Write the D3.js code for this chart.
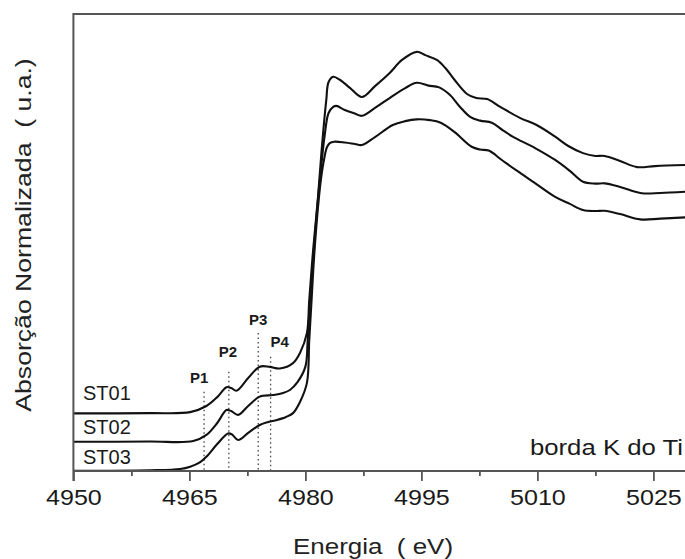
<!DOCTYPE html>
<html><head><meta charset="utf-8">
<script src="https://cdn.jsdelivr.net/npm/d3@7/dist/d3.min.js"></script>
<style>
html,body{margin:0;padding:0;background:#fff;}
svg{display:block;font-family:"Liberation Sans",Arial,sans-serif;}
</style></head>
<body>
<svg id="chart" width="685" height="559"></svg>
<script>
// ---- data ----
const seriesNames = ["ST01", "ST02", "ST03"];
const energy01 = [4950.0,4959.9,4965.1,4967.2,4968.6,4969.8,4970.4,4971.1,4972.6,4974.1,4975.4,4976.7,4978.4,4979.3,4980.2,4980.5,4981.0,4981.6,4982.1,4982.7,4983.0,4983.6,4984.5,4985.8,4987.3,4989.0,4990.9,4992.5,4994.4,4995.5,4997.0,4998.1,4999.3,5000.9,5002.1,5003.5,5005.2,5007.8,5009.9,5012.3,5014.0,5015.9,5017.5,5018.7,5020.7,5022.9,5025.2,5029.1];
const st01 = [0.227,0.228,0.232,0.256,0.291,0.330,0.327,0.316,0.366,0.411,0.410,0.404,0.425,0.465,0.544,0.673,0.870,1.067,1.264,1.461,1.532,1.553,1.540,1.508,1.473,1.516,1.568,1.619,1.651,1.638,1.619,1.587,1.540,1.485,1.469,1.465,1.434,1.390,1.363,1.317,1.280,1.252,1.241,1.241,1.221,1.197,1.201,1.205];
const energy02 = [4950.0,4959.9,4965.5,4967.2,4968.6,4969.8,4970.4,4971.3,4972.6,4974.1,4975.8,4977.1,4978.0,4979.0,4980.0,4980.3,4980.6,4981.0,4981.5,4982.0,4982.5,4983.0,4983.6,4984.0,4985.1,4986.4,4987.3,4989.0,4990.9,4992.9,4994.4,4995.9,4997.3,4998.7,5000.0,5001.3,5002.6,5004.1,5005.5,5006.8,5009.7,5012.3,5014.2,5015.9,5017.5,5018.7,5020.7,5023.5,5025.9,5029.1];
const st02 = [0.115,0.116,0.118,0.142,0.189,0.240,0.236,0.221,0.256,0.293,0.299,0.307,0.319,0.351,0.411,0.516,0.673,0.831,1.028,1.186,1.323,1.410,1.434,1.438,1.422,1.408,1.399,1.430,1.469,1.508,1.529,1.518,1.511,1.481,1.434,1.395,1.380,1.372,1.343,1.317,1.272,1.225,1.182,1.139,1.132,1.133,1.119,1.094,1.095,1.100];
const energy03 = [4950.0,4959.9,4963.8,4965.1,4966.4,4967.2,4968.6,4970.0,4970.5,4971.3,4972.6,4974.1,4975.2,4976.3,4977.5,4978.4,4979.3,4980.2,4980.5,4980.8,4981.1,4981.6,4982.0,4982.4,4982.8,4983.2,4983.7,4985.1,4986.4,4987.3,4989.0,4991.3,4992.9,4994.4,4996.1,4997.5,4999.3,5001.5,5002.6,5003.7,5005.4,5007.2,5009.7,5012.3,5014.2,5015.9,5017.5,5018.7,5020.7,5023.3,5025.9,5029.1];
const st03 = [0.001,0.003,0.008,0.017,0.035,0.056,0.106,0.148,0.144,0.122,0.150,0.181,0.193,0.201,0.213,0.228,0.272,0.347,0.516,0.673,0.831,1.028,1.146,1.225,1.276,1.292,1.297,1.294,1.288,1.284,1.315,1.363,1.378,1.385,1.382,1.372,1.335,1.277,1.266,1.262,1.225,1.186,1.134,1.080,1.052,1.028,1.024,1.025,1.012,0.991,0.994,0.999];
const peakNames = ["P1", "P2", "P3", "P4"];
const peakEnergy = [4966.9, 4970.1, 4973.9, 4975.5];
const peakTop = [0.312, 0.391, 0.544, 0.450];
const xTicks = [4950, 4965, 4980, 4995, 5010, 5025];
const xMinorTicks = [4957.5, 4972.5, 4987.5, 5002.5, 5017.5];
const xTitle = "Energia  ( eV)";
const yTitle = "Absorção Normalizada  ( u.a.)";
const edgeLabel = "borda K do Ti";

// ---- layout ----
const L = 73.4, T = 14, B = 471;
const x = d3.scaleLinear().domain([4950, 5030]).range([L, L + 80 * 7.733]);
const y = d3.scaleLinear().domain([0, 1.8]).range([B, T]);
const svg = d3.select("#chart");
const axisColor = "#555";

const series = [
  energy01.map((e, i) => [e, st01[i]]),
  energy02.map((e, i) => [e, st02[i]]),
  energy03.map((e, i) => [e, st03[i]])
];

svg.append("defs").append("clipPath").attr("id", "clip")
  .append("rect").attr("x", L).attr("y", T).attr("width", 685 - L).attr("height", B - T);

// dotted peak lines
svg.append("g").selectAll("line").data(peakEnergy).join("line")
  .attr("x1", d => x(d)).attr("x2", d => x(d))
  .attr("y1", (d, i) => y(peakTop[i])).attr("y2", y(0))
  .attr("stroke", "#444").attr("stroke-width", 1.3)
  .attr("stroke-dasharray", "1.5,3");

// curves
const line = d3.line().x(d => x(d[0])).y(d => y(d[1])).curve(d3.curveCatmullRom.alpha(0.5));
svg.append("g").attr("clip-path", "url(#clip)").selectAll("path").data(series).join("path")
  .attr("d", line).attr("fill", "none").attr("stroke", "#111")
  .attr("stroke-width", 2.1).attr("stroke-linejoin", "round");

// axes
const xAxis = d3.axisBottom(x).tickValues(xTicks).tickSize(10).tickFormat(d3.format("d"));
const gx = svg.append("g").attr("transform", `translate(0,${B})`).call(xAxis);
gx.select(".domain").remove();
gx.selectAll(".tick line").attr("stroke", axisColor).attr("stroke-width", 1.8);
gx.selectAll(".tick text").remove();
gx.selectAll(".tick").append("g").attr("transform", "translate(0,34) scale(1.14,1)")
  .append("text").attr("text-anchor", "middle").attr("fill", "#1a1a1a")
  .style("font-size", "22px").text(d => d);
const gxm = svg.append("g").attr("transform", `translate(0,${B})`)
  .call(d3.axisBottom(x).tickValues(xMinorTicks).tickSize(5).tickFormat(""));
gxm.select(".domain").remove();
gxm.selectAll(".tick line").attr("stroke", axisColor).attr("stroke-width", 1.8);

// frame lines
svg.append("line").attr("x1", L).attr("x2", 685).attr("y1", B).attr("y2", B)
  .attr("stroke", axisColor).attr("stroke-width", 2);
svg.append("line").attr("x1", L).attr("x2", 685).attr("y1", T).attr("y2", T)
  .attr("stroke", axisColor).attr("stroke-width", 2);
svg.append("line").attr("x1", L).attr("x2", L).attr("y1", T - 1).attr("y2", B + 10)
  .attr("stroke", axisColor).attr("stroke-width", 2);

// series labels
const labelY = [400, 434, 464];
svg.append("g").selectAll("text").data(seriesNames).join("text")
  .attr("x", 83).attr("y", (d, i) => labelY[i])
  .style("font-size", "20px").attr("fill", "#1a1a1a").text(d => d);

// peak labels
const peakLabelDx = [-5, -1, 0, 9];
const peakLabelY = [383, 357, 325, 347];
svg.append("g").selectAll("text").data(peakNames).join("text")
  .attr("x", (d, i) => x(peakEnergy[i]) + peakLabelDx[i]).attr("y", (d, i) => peakLabelY[i])
  .attr("text-anchor", "middle").style("font-size", "15px").style("font-weight", "bold")
  .attr("fill", "#1a1a1a").text(d => d);

// edge label
svg.append("g").attr("transform", "translate(683,455) scale(1.17,1)")
  .append("text").attr("text-anchor", "end").style("font-size", "22px")
  .attr("fill", "#1a1a1a").text(edgeLabel);

// axis titles
svg.append("g").attr("transform", "translate(373,554) scale(1.18,1)")
  .append("text").attr("text-anchor", "middle").style("font-size", "22px")
  .attr("fill", "#222").style("white-space", "pre").text(xTitle);
svg.append("g").attr("transform", "translate(31,235) rotate(-90) scale(1.21,1)")
  .append("text").attr("text-anchor", "middle").style("font-size", "22px")
  .attr("fill", "#222").style("white-space", "pre").text(yTitle);
</script>
</body></html>
